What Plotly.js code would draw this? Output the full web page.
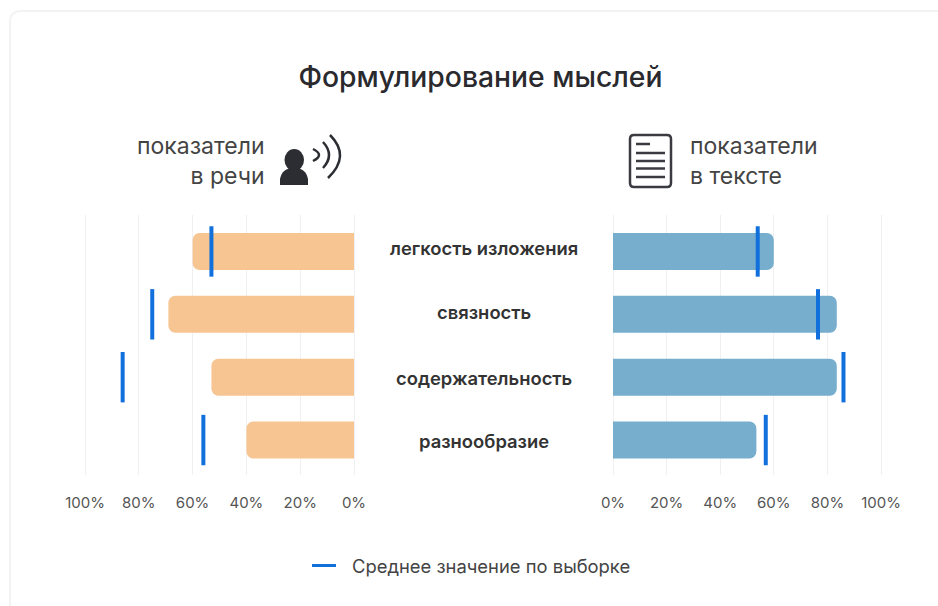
<!DOCTYPE html>
<html><head><meta charset="utf-8">
<script src="https://cdn.plot.ly/plotly-3.0.1.min.js"></script>
<style>html,body{margin:0;padding:0;background:#fff}#c{width:938px;height:606px}</style>
</head><body><div id="c"></div>
<script>
const categories=['легкость изложения','связность','содержательность','разнообразие'];
const speechValues=[60,69,53,40];
const speechMeans=[53,75,86,56];
const textValues=[60,83.5,83.5,53.5];
const textMeans=[54,76.5,86,57];
const tickValues=[0,20,40,60,80,100];
const tickLabels=['0%','20%','40%','60%','80%','100%'];
const legendLabel='Среднее значение по выборке';
const W=938,H=606,FONT='Inter, "Noto Sans", sans-serif';
const px=x=>x/W, py=y=>1-y/H;
const meanColor='#1170dc';
const meanTrace=(x,xa)=>({type:'scatter',mode:'markers',x:x,y:categories,xaxis:xa,yaxis:'y',showlegend:false,hoverinfo:'x',
  marker:{symbol:'line-ns',size:36,color:meanColor,line:{width:4,color:meanColor}}});
const data=[
 {type:'bar',orientation:'h',x:speechValues,y:categories,xaxis:'x',yaxis:'y',width:0.59,marker:{color:'#f7c592',line:{width:0}},showlegend:false},
 {type:'bar',orientation:'h',x:textValues,y:categories,xaxis:'x2',yaxis:'y',width:0.59,marker:{color:'#78aecd',line:{width:0}},showlegend:false},
 meanTrace(speechMeans,'x'),meanTrace(textMeans,'x2')
];
const xaxisBase={tickvals:tickValues,ticktext:tickLabels,showgrid:true,gridcolor:'#f0f0f3',gridwidth:1,zeroline:false,showline:false,
  ticks:'outside',ticklen:14,tickcolor:'rgba(0,0,0,0)',tickfont:{family:FONT,size:15,color:'#555555'},anchor:'y',fixedrange:true};
const note=(text,x,y,anchor,size,color,weight)=>({text:text,xref:'paper',yref:'paper',x:px(x),y:py(y),xanchor:anchor,yanchor:'middle',showarrow:false,align:anchor,
  font:{family:FONT,size:size,color:color,weight:weight||400}});
const labelNudge=[-3,-2,1,1];
const labelNotes=categories.map((c,i)=>({text:c,xref:'paper',yref:'y',x:px(483.5),y:c,yshift:-labelNudge[i],xanchor:'center',yanchor:'middle',showarrow:false,
  font:{family:FONT,size:18.4,color:'#333333',weight:600}}));
const P=(x,y)=>`${px(x)} ${py(y)}`;
const iconColor='#2b2d33';
const arc=(x0,y0,cx,cy,x1,y1,w)=>({type:'path',xref:'paper',yref:'paper',path:`M ${P(x0,y0)} Q ${P(cx,cy)} ${P(x1,y1)}`,line:{color:iconColor,width:w}});
const hline=(x0,x1,y)=>({type:'line',xref:'paper',yref:'paper',x0:px(x0),x1:px(x1),y0:py(y),y1:py(y),line:{color:'#3a3b40',width:2.5}});
const shapes=[
 {type:'path',xref:'paper',yref:'paper',layer:'below',line:{color:'#f3f3f4',width:2},fillcolor:'#ffffff',
  path:`M ${P(10,620)} L ${P(10,22)} Q ${P(10,11)} ${P(21,11)} L ${P(945,11)}`},
 {type:'circle',xref:'paper',yref:'paper',x0:px(284.5),x1:px(304),y0:py(149),y1:py(171),fillcolor:iconColor,line:{width:0}},
 {type:'path',xref:'paper',yref:'paper',fillcolor:iconColor,line:{width:0},
  path:`M ${P(280,185)} L ${P(280,179)} Q ${P(282,168)} ${P(294,168)} Q ${P(306,168)} ${P(308,179)} L ${P(308,185)} Z`},
 arc(313,149,325,155,313,161,2.5),arc(323,142,335,155,323,168,2.5),arc(330,135,351,156,328,178,2.5),
 {type:'path',xref:'paper',yref:'paper',line:{color:'#3a3b40',width:2.5},
  path:`M ${P(634,135)} L ${P(667,135)} Q ${P(671,135)} ${P(671,139)} L ${P(671,183)} Q ${P(671,187)} ${P(667,187)} L ${P(634,187)} Q ${P(630,187)} ${P(630,183)} L ${P(630,139)} Q ${P(630,135)} ${P(634,135)} Z`},
 hline(636,650,144),hline(636,665,153),hline(636,665,161),hline(636,665,168.5),hline(636,665,177),
 {type:'line',xref:'paper',yref:'paper',x0:px(312),x1:px(336),y0:py(565.5),y1:py(565.5),line:{color:meanColor,width:3}}
];
const layout={width:W,height:H,margin:{l:0,r:0,t:0,b:0},paper_bgcolor:'#fff',plot_bgcolor:'rgba(0,0,0,0)',
 barcornerradius:7,showlegend:false,
 title:{text:'Формулирование мыслей',font:{family:FONT,size:28.3,color:'#2a2a2e',weight:500},x:px(480.5),xanchor:'center',xref:'paper',y:py(77),yanchor:'middle',yref:'paper'},
 xaxis:Object.assign({},xaxisBase,{domain:[px(82),px(357)],range:[101.115,-1.115]}),
 xaxis2:Object.assign({},xaxisBase,{domain:[px(610),px(884)],range:[-1.12,101.12]}),
 yaxis:{domain:[py(475),py(215)],range:[3.556,-0.58],type:'category',categoryorder:'array',categoryarray:categories,showticklabels:false,showgrid:false,zeroline:false,ticks:'',fixedrange:true,anchor:'x'},
 annotations:[
  note('показатели<br>в речи',267,160.5,'right',23,'#444444'),
  note('показатели<br>в тексте',688,160.5,'left',23,'#444444'),
  note(legendLabel,349.5,566,'left',18.4,'#444444')
 ].concat(labelNotes),
 shapes:shapes
};
Plotly.newPlot('c',data,layout,{displayModeBar:false,responsive:false});
</script></body></html>
